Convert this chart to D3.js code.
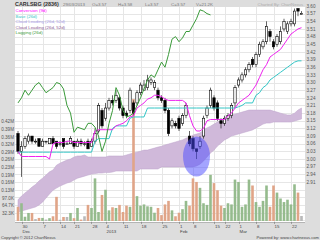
<!DOCTYPE html>
<html>
<head>
<meta charset="utf-8">
<script src="https://cdn.jsdelivr.net/npm/d3@7"></script>
<style>
html, body { margin: 0; padding: 0; background: #dddddd; }
svg { display: block; font-family: "Liberation Sans", Arial, sans-serif; }
</style>
</head>
<body>
<svg width="320" height="240"></svg>
<script>
// daily prices, 30 Nov 2012 .. 29 Mar 2013
var opens  = [3.10,3.03,3.05,3.07,3.09,3.07,3.08,3.05,3.07,3.06, 3.08,3.07,3.06,3.08,3.06,3.06,3.07,3.05,3.07,3.06,
              3.07,3.05,3.07,3.11,3.19,3.16,3.20,3.23,3.23,3.24, 3.20,3.18,3.19,3.22,3.22,3.26,3.27,3.28,3.30,3.28,
              3.27,3.24,3.23,3.19,3.13,3.14,3.16,3.14,3.17,3.09, 3.08,3.04,3.05,3.09,3.17,3.21,3.24,3.22,3.15,3.14,
              3.16,3.17,3.22,3.29,3.31,3.33,3.35,3.39,3.37,3.41, 3.44,3.46,3.50,3.46,3.45,3.46,3.51,3.50,3.53,3.53,
              3.59,3.57];
var highs  = [3.11,3.07,3.09,3.10,3.09,3.08,3.08,3.08,3.07,3.08, 3.09,3.07,3.07,3.08,3.07,3.09,3.07,3.08,3.08,3.07,
              3.08,3.08,3.12,3.22,3.20,3.22,3.24,3.25,3.27,3.25, 3.21,3.19,3.28,3.23,3.27,3.30,3.31,3.33,3.32,3.31,
              3.28,3.25,3.24,3.20,3.16,3.15,3.17,3.18,3.22,3.11, 3.09,3.04,3.09,3.17,3.21,3.28,3.25,3.23,3.16,3.17,
              3.18,3.22,3.29,3.32,3.34,3.36,3.38,3.40,3.42,3.46, 3.47,3.54,3.51,3.47,3.49,3.52,3.55,3.54,3.55,3.59,
              3.59,3.58];
var lows   = [3.02,2.93,3.04,3.06,3.06,3.06,3.05,3.05,3.06,3.06, 3.06,3.04,3.05,3.04,3.06,3.06,3.04,3.05,3.05,3.05,
              3.04,3.05,3.06,3.10,3.12,3.15,3.19,3.21,3.22,3.19, 3.16,3.16,3.18,3.17,3.21,3.25,3.27,3.27,3.29,3.27,
              3.23,3.22,3.18,3.09,3.12,3.12,3.11,3.13,3.16,3.05, 3.03,3.00,3.04,3.08,3.16,3.20,3.19,3.15,3.12,3.13,
              3.15,3.16,3.20,3.28,3.30,3.32,3.34,3.36,3.36,3.40, 3.43,3.45,3.46,3.43,3.44,3.45,3.50,3.49,3.52,3.52,
              3.56,3.57];
var closes = [3.03,3.05,3.08,3.09,3.07,3.07,3.05,3.07,3.07,3.08, 3.06,3.05,3.06,3.05,3.06,3.08,3.05,3.07,3.06,3.06,
              3.04,3.07,3.10,3.21,3.13,3.20,3.23,3.22,3.25,3.20, 3.17,3.17,3.27,3.18,3.26,3.29,3.29,3.31,3.31,3.30,
              3.24,3.23,3.19,3.10,3.15,3.13,3.12,3.17,3.21,3.06, 3.04,3.03,3.07,3.16,3.20,3.27,3.20,3.16,3.14,3.16,
              3.17,3.21,3.28,3.31,3.33,3.35,3.37,3.37,3.41,3.45, 3.46,3.52,3.48,3.44,3.48,3.50,3.54,3.53,3.54,3.58,
              3.58,3.57];
var volumes = [60000,75000,18000,34000,34000,8000,13000,13000,6000,12000,
               20000,102000,5000,17000,17000,34000,12000,55000,6000,20000,
               68000,55000,180000,38000,110000,132000,45000,58000,55000,68000,
               38000,65000,60000,515000,105000,65000,70000,62000,60000,35000,
               55000,25000,70000,85000,45000,20000,35000,50000,85000,65000,
               180000,165000,140000,75000,68000,195000,160000,130000,65000,55000,
               75000,70000,175000,165000,60000,70000,175000,150000,80000,60000,
               85000,150000,60000,150000,120000,95000,80000,90000,70000,155000,
               120000,21200];

// ichimoku lines as drawn
var conversion = [3.03,3.01,3.01,3.01,3.01,3.01,3.01,3.01,3.01,3.00,
                  3.06,3.065,3.065,3.065,3.07,3.07,3.065,3.065,3.065,3.065,
                  3.065,3.065,3.11,3.115,3.115,3.115,3.115,3.115,3.13,3.135,
                  3.14,3.15,3.165,3.17,3.20,3.21,3.22,3.235,3.24,3.25,
                  3.25,3.245,3.235,3.23,3.23,3.23,3.23,3.23,3.22,3.17,
                  3.13,3.11,3.11,3.12,3.15,3.155,3.155,3.155,3.155,3.155,
                  3.17,3.18,3.20,3.22,3.23,3.24,3.25,3.27,3.29,3.32,
                  3.35,3.37,3.40,3.41,3.42,3.43,3.45,3.47,3.49,3.50,
                  3.51,3.515];
var base = [3.027,3.027,3.027,3.027,3.027,3.027,3.027,3.027,3.027,3.027,
            3.027,3.027,3.027,3.027,3.027,3.027,3.027,3.027,3.027,3.027,
            3.027,3.027,3.07,3.08,3.08,3.08,3.08,3.12,3.13,3.13,
            3.13,3.13,3.16,3.165,3.165,3.165,3.165,3.20,3.20,3.20,
            3.20,3.20,3.20,3.20,3.20,3.20,3.20,3.20,3.20,3.20,
            3.20,3.20,3.20,3.20,3.20,3.20,3.20,3.20,3.20,3.20,
            3.20,3.20,3.20,3.205,3.21,3.22,3.22,3.22,3.25,3.26,
            3.28,3.29,3.31,3.32,3.33,3.34,3.35,3.36,3.37,3.38,
            3.385,3.385];
var cloudUpper = [2.840,2.855,2.867,2.878,2.890,2.900,2.914,2.925,2.937,2.950,
                  2.957,2.976,2.984,2.990,2.996,3.000,3.008,3.012,3.012,3.016,
                  3.008,3.008,3.008,3.008,3.008,3.008,3.012,3.012,3.012,3.012,
                  3.012,3.016,3.020,3.024,3.027,3.031,3.035,3.035,3.039,3.043,
                  3.047,3.050,3.055,3.059,3.063,3.067,3.071,3.075,3.082,3.086,
                  3.094,3.098,3.102,3.114,3.122,3.129,3.137,3.145,3.153,3.161,
                  3.165,3.173,3.176,3.180,3.184,3.188,3.192,3.192,3.192,3.192,
                  3.192,3.192,3.192,3.188,3.184,3.180,3.176,3.173,3.173,3.180,
                  3.192,3.200];
var cloudLower = [2.792,2.796,2.800,2.804,2.808,2.812,2.820,2.831,2.847,2.863,
                  2.878,2.886,2.894,2.900,2.906,2.910,2.918,2.925,2.929,2.933,
                  2.937,2.941,2.943,2.945,2.945,2.947,2.947,2.949,2.953,2.953,
                  2.953,2.953,2.953,2.953,2.953,2.961,2.961,2.961,2.961,2.961,
                  2.961,2.969,2.969,2.969,2.969,2.969,2.969,2.969,2.969,2.969,
                  2.969,2.973,2.980,2.992,3.008,3.024,3.035,3.051,3.063,3.075,
                  3.082,3.090,3.094,3.098,3.102,3.106,3.110,3.114,3.122,3.129,
                  3.137,3.141,3.141,3.145,3.145,3.145,3.145,3.145,3.145,3.149,
                  3.153,3.157];
var lagging = [3.22,3.24,3.27,3.25,3.27,3.29,3.30,3.28,3.26,3.27,
               3.28,3.30,3.295,3.275,3.21,3.18,3.105,3.125,3.12,3.115,
               3.14,3.14,3.125,3.09,3.03,3.07,3.14,3.19,3.28,3.25,
               3.19,3.165,3.17,3.18,3.21,3.24,3.275,3.31,3.33,3.32,
               3.35,3.38,3.36,3.41,3.47,3.48,3.46,3.475,3.50,3.50,
               3.525,3.55,3.585,3.58,3.57,3.565];

// axes
var priceTicks = [3.60,3.57,3.54,3.51,3.48,3.45,3.42,3.39,3.36,3.33,3.30,3.27,
                  3.24,3.21,3.18,3.15,3.12,3.09,3.06,3.03,3.00,2.97,2.94,2.91];
var volTickLabels = ["32.3K","64.7K","97.0K","0.13M","0.16M","0.19M","0.23M",
                     "0.26M","0.29M","0.32M","0.36M","0.39M","0.42M"];
var volStep = 32330;
var dayTickIndex = [1,7,12,16,21,25,30,35,41,46,50,56,59,63,68,73,78];
var dayTickLabels = ["30","7","14","21","28","4","11","18","25","1","8","15","22","1","8","15","22"];
var monthTickIndex = [1,25,46,63];
var monthTickLabels = ["Dec","2013","Feb","Mar"];

var legendNames = ["Conversion (9d)","Base (26d)","Cloud Leading (26d, 52d)","Cloud Leading (26d, 52d)","Lagging (26d)"];
var legendColors = ["#ff00ff","#33c6c6","#a99be6","#8e5a96","#3a9a3a"];

var header = ["29/03/2013","O=3.57","H=3.58","L=3.57","C=3.57","V=21.2K"];
var headerX = [63,92,118,145,171,196];

// marked area (drawn by hand on the original)
var markIndex = 51, markPrice = 3.01;

var svg = d3.select("svg");
var plotL = 15, plotR = 305, plotT = 7, plotB = 222;

svg.append("rect").attr("width", 320).attr("height", 240).attr("fill", "#dddddd");
svg.append("rect")
    .attr("x", plotL).attr("y", plotT)
    .attr("width", plotR - plotL).attr("height", plotB - plotT)
    .attr("fill", "#ffffff");

svg.append("defs").append("clipPath").attr("id", "plot")
  .append("rect")
    .attr("x", plotL).attr("y", plotT)
    .attr("width", plotR - plotL).attr("height", plotB - plotT);

var x = d3.scaleLinear().domain([0, closes.length - 1]).range([18, 301.5]);
var y = d3.scaleLinear().domain([2.91, 3.60]).range([182, 6]);
var yVol = d3.scaleLinear().domain([0, 13 * volStep]).range([221, 121.5]);

var g = svg.append("g").attr("clip-path", "url(#plot)");

// grid
var gridPrices = d3.range(0, 32).map(function(k) { return 3.60 - 0.03 * k; })
    .filter(function(p) { return y(p) > plotT && y(p) < plotB; });
g.selectAll(".hgrid").data(gridPrices).enter().append("line")
    .attr("x1", plotL).attr("x2", plotR)
    .attr("y1", function(d) { return Math.round(y(d)) + 0.5; })
    .attr("y2", function(d) { return Math.round(y(d)) + 0.5; })
    .attr("stroke", "#e6e6e6").attr("stroke-width", 1);
g.selectAll(".vgrid").data(dayTickIndex).enter().append("line")
    .attr("x1", function(d) { return Math.round(x(d)) + 0.5; })
    .attr("x2", function(d) { return Math.round(x(d)) + 0.5; })
    .attr("y1", plotT).attr("y2", plotB)
    .attr("stroke", "#e6e6e6").attr("stroke-width", 1);

// cloud
var cloud = d3.area()
    .x(function(d, i) { return x(i); })
    .y0(function(d, i) { return y(cloudLower[i]); })
    .y1(function(d, i) { return y(cloudUpper[i]); });
g.append("path").datum(cloudUpper)
    .attr("d", cloud)
    .attr("fill", "#d0b9da")
    .attr("stroke", "#bda2cb").attr("stroke-width", 0.5);

// volume
function dir(i) {
  if (closes[i] > opens[i]) return "#95bb8d";
  if (closes[i] < opens[i]) return "#e0a588";
  return "#b9b9b9";
}
g.selectAll(".vol").data(volumes).enter().append("rect")
    .attr("x", function(d, i) { return x(i) - 1.3; })
    .attr("width", 2.6)
    .attr("y", function(d) { return yVol(d); })
    .attr("height", function(d) { return yVol(0) - yVol(d); })
    .attr("fill", function(d, i) { return dir(i); });

// candles
var candles = g.selectAll(".candle").data(closes).enter().append("g");
candles.append("line")
    .attr("x1", function(d, i) { return x(i); })
    .attr("x2", function(d, i) { return x(i); })
    .attr("y1", function(d, i) { return y(highs[i]); })
    .attr("y2", function(d, i) { return y(lows[i]); })
    .attr("stroke", "#222").attr("stroke-width", 0.7);
candles.append("rect")
    .attr("x", function(d, i) { return x(i) - 1.2; })
    .attr("width", 2.4)
    .attr("y", function(d, i) { return y(Math.max(opens[i], d)); })
    .attr("height", function(d, i) { return Math.max(0.8, Math.abs(y(opens[i]) - y(d))); })
    .attr("fill", function(d, i) { return d < opens[i] ? "#000" : "#fff"; })
    .attr("stroke", "#000").attr("stroke-width", 0.6);

// lines
function lineOf(vals) {
  return d3.line().x(function(d, i) { return x(i); }).y(function(d) { return y(d); })(vals);
}
g.append("path").attr("d", lineOf(base))
    .attr("fill", "none").attr("stroke", "#33c6c6").attr("stroke-width", 1);
g.append("path").attr("d", lineOf(conversion))
    .attr("fill", "none").attr("stroke", "#ee22ee").attr("stroke-width", 1);
g.append("path").attr("d", lineOf(lagging))
    .attr("fill", "none").attr("stroke", "#3a9a3a").attr("stroke-width", 1);

// marked area
g.append("ellipse")
    .attr("cx", x(markIndex)).attr("cy", y(markPrice))
    .attr("rx", 13.5).attr("ry", 20)
    .attr("fill", "#4a4aff").attr("fill-opacity", 0.5);

// right price axis
svg.selectAll(".plab").data(priceTicks).enter().append("text")
    .attr("x", 306.5).attr("y", function(d) { return y(d) + 1.7; })
    .attr("font-size", 4.6).attr("fill", "#555")
    .text(function(d) { return d.toFixed(2); });

// left volume axis
svg.selectAll(".vlab").data(volTickLabels).enter().append("text")
    .attr("x", 14).attr("y", function(d, i) { return yVol((i + 1) * volStep) + 1.7; })
    .attr("text-anchor", "end")
    .attr("font-size", 4.6).attr("fill", "#555")
    .text(function(d) { return d; });

// date axis
svg.append("line").attr("x1", plotL).attr("x2", plotR)
    .attr("y1", plotB + 0.5).attr("y2", plotB + 0.5)
    .attr("stroke", "#999").attr("stroke-width", 0.6);
svg.selectAll(".dtick").data(dayTickIndex).enter().append("line")
    .attr("x1", function(d) { return Math.round(x(d)) + 0.5; })
    .attr("x2", function(d) { return Math.round(x(d)) + 0.5; })
    .attr("y1", plotB).attr("y2", plotB + 2)
    .attr("stroke", "#777").attr("stroke-width", 0.6);
svg.selectAll(".dlab").data(dayTickLabels).enter().append("text")
    .attr("x", function(d, i) { return x(dayTickIndex[i]) + 1; })
    .attr("y", 227.5)
    .attr("font-size", 4.4).attr("fill", "#444")
    .text(function(d) { return d; });
svg.selectAll(".mlab").data(monthTickLabels).enter().append("text")
    .attr("x", function(d, i) { return x(monthTickIndex[i]) + 1; })
    .attr("y", 232.5)
    .attr("font-size", 4.4).attr("fill", "#444")
    .text(function(d) { return d; });

// header
svg.append("text").attr("x", 15).attr("y", 6)
    .attr("font-size", 5.4).attr("font-weight", "bold").attr("fill", "#333")
    .text("CARLSBG (2836)");
svg.selectAll(".hdr").data(header).enter().append("text")
    .attr("x", function(d, i) { return headerX[i]; }).attr("y", 6)
    .attr("font-size", 4.4).attr("fill", "#777")
    .text(function(d) { return d; });
svg.append("text").attr("x", 303).attr("y", 6).attr("text-anchor", "end")
    .attr("font-size", 4.2).attr("fill", "#aaa")
    .text("Charted By: ChartNexus");

// legend
svg.selectAll(".leg").data(legendNames).enter().append("text")
    .attr("x", 15.5).attr("y", function(d, i) { return 12 + i * 5.6; })
    .attr("font-size", 4.4)
    .attr("fill", function(d, i) { return legendColors[i]; })
    .text(function(d) { return d; });

// footer
svg.append("text").attr("x", 1).attr("y", 238.5)
    .attr("font-size", 4.1).attr("fill", "#444")
    .text("Copyright \u00a9 2012 ChartNexus");
svg.append("text").attr("x", 319).attr("y", 238.5).attr("text-anchor", "end")
    .attr("font-size", 4.1).attr("fill", "#444")
    .text("Powered by: www.chartnexus.com");
</script>
</body>
</html>
